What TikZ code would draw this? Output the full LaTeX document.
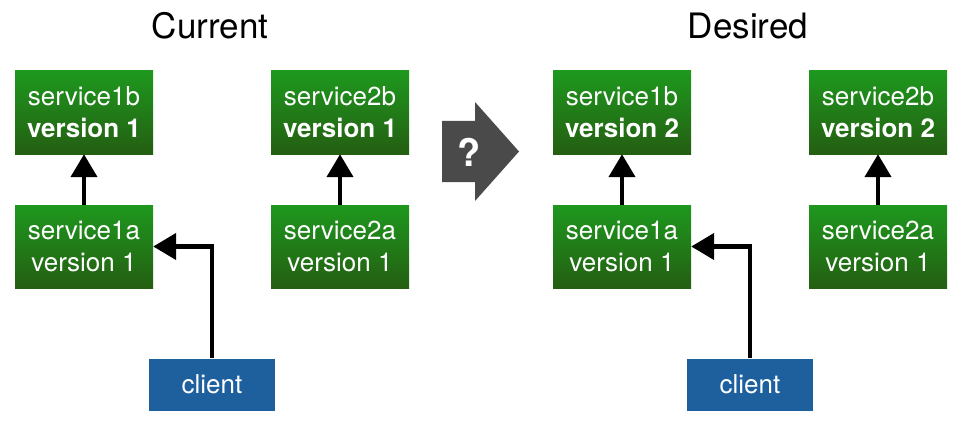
\documentclass[tikz,border=0pt]{standalone}
\usepackage{fontspec}
\setmainfont{TeX Gyre Heros}
\usetikzlibrary{arrows.meta, positioning, calc}
\definecolor{greentop}{RGB}{30,152,30}
\definecolor{greenbot}{RGB}{36,94,18}
\definecolor{clientblue}{RGB}{30,96,158}
\definecolor{bigarrow}{RGB}{74,74,74}

\begin{document}
\begin{tikzpicture}[x=1pt, y=-1pt,
    svc/.style={top color=greentop, bottom color=greenbot, minimum width=138pt, minimum height=83pt,
        inner sep=0pt, text=white, align=center, font=\fontsize{26}{32}\selectfont},
    clientbox/.style={fill=clientblue, minimum width=126pt, minimum height=52pt,
        inner sep=0pt, text=white, font=\fontsize{26}{32}\selectfont},
    link/.style={line width=4.5pt, -{Triangle[width=26pt,length=23pt]}}]
    \useasboundingbox (0,0) rectangle (963,425);

    % both panels
    \foreach \dx/\ver/\ttl in {0/1/Current, 538/2/Desired} {
        \node[font=\fontsize{35}{40}\selectfont, anchor=base] (title\ttl) at (210+\dx,39) {\ttl};
        % services
        \node[svc] (sb\ttl) at (84+\dx,112.5) {service1b\\\textbf{version \ver}};
        \node[svc] (sa\ttl) at (84+\dx,246.5) {service1a\\version 1};
        \node[svc] (tb\ttl) at (340+\dx,112.5) {service2b\\\textbf{version \ver}};
        \node[svc] (ta\ttl) at (340+\dx,246.5) {service2a\\version 1};
        % client
        \node[clientbox] (cl\ttl) at (212+\dx,384.5) {client};
        % calls
        \draw[link] (sa\ttl) -- (sb\ttl);
        \draw[link] (ta\ttl) -- (tb\ttl);
        \draw[link] (cl\ttl.north) |- (sa\ttl.east);
    }

    % big arrow
    \fill[bigarrow] (442,121) -- (475,121) -- (475,102) -- (519,151.5) -- (475,201) -- (475,182) -- (442,182) -- cycle;
    \node[font=\fontsize{38}{42}\selectfont\bfseries, text=white] (ask) at (469,152) {?};
\end{tikzpicture}
\end{document}
